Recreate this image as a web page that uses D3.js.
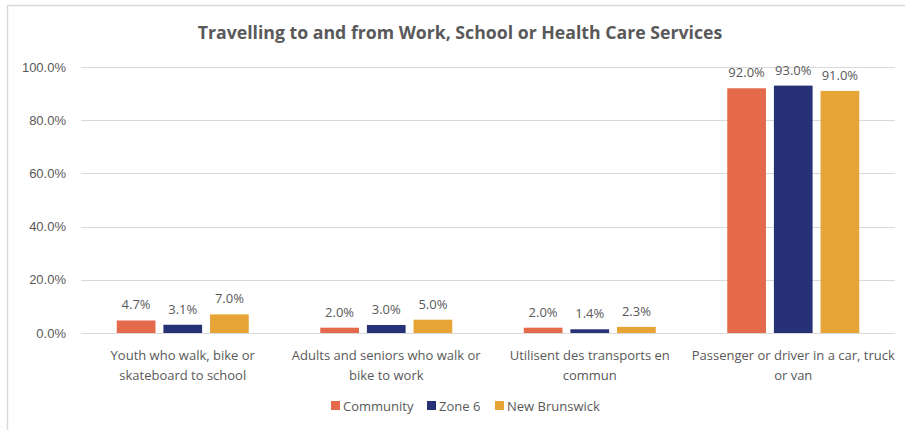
<!DOCTYPE html>
<html>
<head>
<meta charset="utf-8">
<script src="https://cdn.jsdelivr.net/npm/d3@7"></script>
<style>
  html, body { margin: 0; padding: 0; background: #fff; }
  svg { display: block; font-family: "Open Sans", "Liberation Sans", sans-serif; }
</style>
</head>
<body>
<svg id="chart" width="905" height="430"></svg>
<script>
// Categories (multi-line labels) and series values in percent
const categories = [
  ["Youth who walk, bike or", "skateboard to school"],
  ["Adults and seniors who walk or", "bike to work"],
  ["Utilisent des transports en", "commun"],
  ["Passenger or driver in a car, truck", "or van"]
];
const seriesNames = ["Community", "Zone 6", "New Brunswick"];
const community = [4.7, 2.0, 2.0, 92.0];
const zone6 = [3.1, 3.0, 1.4, 93.0];
const newBrunswick = [7.0, 5.0, 2.3, 91.0];
const yTicks = [0, 20, 40, 60, 80, 100];
const colors = ["#E5694B", "#273276", "#E8A537"];

const series = [community, zone6, newBrunswick];

const svg = d3.select("#chart");
const W = 905, H = 430;

// Chart frame
svg.append("path")
  .attr("d", `M7.5,${H} L7.5,5.5 L${W},5.5`)
  .attr("fill", "none")
  .attr("stroke", "#D9D9D9")
  .attr("stroke-width", 1.5);

// Title
svg.append("text")
  .attr("x", 460).attr("y", 39)
  .attr("text-anchor", "middle")
  .attr("font-size", 17.7)
  .attr("font-weight", "bold")
  .attr("fill", "#595959")
  .text("Travelling to and from Work, School or Health Care Services");

const plot = { left: 81, right: 895, top: 67, bottom: 333 };

const x0 = d3.scaleBand()
  .domain(d3.range(categories.length))
  .range([plot.left, plot.right]);

const x1 = d3.scaleBand()
  .domain(d3.range(series.length))
  .range([0, 132])
  .paddingInner(0.17);

const y = d3.scaleLinear().domain([0, 100]).range([plot.bottom, plot.top]);

// Gridlines
svg.append("g")
  .selectAll("line")
  .data(yTicks)
  .join("line")
  .attr("x1", plot.left).attr("x2", plot.right)
  .attr("y1", d => Math.round(y(d)) + 0.5)
  .attr("y2", d => Math.round(y(d)) + 0.5)
  .attr("stroke", "#D9D9D9")
  .attr("stroke-width", 1);

// Y axis labels
const yAxis = d3.axisLeft(y)
  .tickValues(yTicks)
  .tickSize(0)
  .tickPadding(15)
  .tickFormat(d => d.toFixed(1) + "%");
const gy = svg.append("g").attr("transform", `translate(${plot.left},0)`).call(yAxis);
gy.select(".domain").remove();
gy.selectAll("text").attr("font-size", 13).attr("fill", "#595959").attr("font-family", null);

// Bars and value labels
const groups = svg.append("g").selectAll("g")
  .data(categories.map((c, i) => i))
  .join("g")
  .attr("transform", i => `translate(${x0(i) + (x0.bandwidth() - 132) / 2},0)`);

groups.selectAll("rect")
  .data(i => series.map((s, k) => ({ k, v: s[i] })))
  .join("rect")
  .attr("x", d => x1(d.k))
  .attr("width", x1.bandwidth())
  .attr("y", d => y(d.v))
  .attr("height", d => y(0) - y(d.v))
  .attr("fill", d => colors[d.k]);

groups.selectAll("text")
  .data(i => series.map((s, k) => ({ k, v: s[i] })))
  .join("text")
  .attr("x", d => x1(d.k) + x1.bandwidth() / 2)
  .attr("y", d => y(d.v) - 11)
  .attr("text-anchor", "middle")
  .attr("font-size", 13)
  .attr("fill", "#595959")
  .text(d => d.v.toFixed(1) + "%");

// Category labels
const xl = svg.append("g").selectAll("text")
  .data(categories)
  .join("text")
  .attr("x", (c, i) => x0(i) + x0.bandwidth() / 2)
  .attr("y", 360)
  .attr("text-anchor", "middle")
  .attr("font-size", 13)
  .attr("fill", "#595959");
xl.selectAll("tspan")
  .data(d => d)
  .join("tspan")
  .attr("x", function () { return d3.select(this.parentNode).attr("x"); })
  .attr("dy", (d, j) => j === 0 ? 0 : 20)
  .text(d => d);

// Legend
const legendX = [331, 427, 495];
const legend = svg.append("g").selectAll("g")
  .data(seriesNames)
  .join("g")
  .attr("transform", (d, i) => `translate(${legendX[i]},401)`);
legend.append("rect")
  .attr("width", 9).attr("height", 9)
  .attr("fill", (d, i) => colors[i]);
legend.append("text")
  .attr("x", 12).attr("y", 9.5)
  .attr("font-size", 13)
  .attr("fill", "#595959")
  .text(d => d);
</script>
</body>
</html>
